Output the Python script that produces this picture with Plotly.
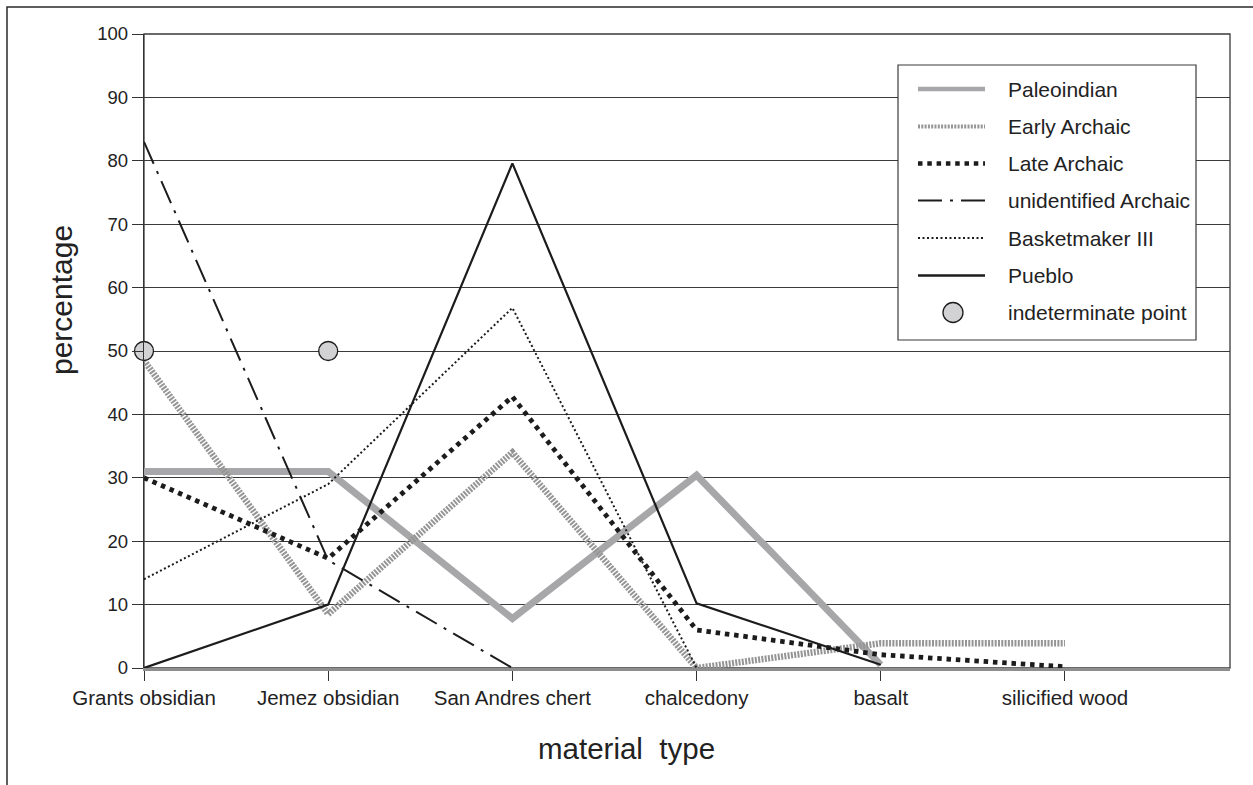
import plotly.graph_objects as go

# Lithic material frequencies by period (percent of points)
categories = ["Grants obsidian", "Jemez obsidian", "San Andres chert",
              "chalcedony", "basalt", "silicified wood"]
paleoindian = [31, 31, 7.8, 30.4, 0.5, None]
early_archaic = [48.5, 8.5, 34, 0, 3.9, 3.9]
late_archaic = [30, 17.3, 42.8, 6, 2.1, 0.2]
unidentified_archaic = [83, 17, 0, None, None, None]
basketmaker_iii = [14, 29, 56.8, 0, None, None]
pueblo = [0, 10, 79.6, 10.2, 0.5, None]
indeterminate = [50, 50, None, None, None, None]
y_ticks = list(range(0, 101, 10))

W, H = 1253, 785
L, R, T, B = 144, 1230, 34, 668
FONT = "Liberation Sans, Arial, sans-serif"
INK = "#1c1c1c"


def px(x):
    return (x - L) / (R - L)


def py(y):
    return (B - y) / (B - T)


xs = list(range(len(categories)))

styles = [
    ("Paleoindian", paleoindian, dict(color="#a7a7a9", width=7, dash="solid"), 4.5),
    ("Early Archaic", early_archaic, dict(color="#959595", width=6.5, dash="2px,1.3px"), 4),
    ("Late Archaic", late_archaic, dict(color=INK, width=4.8, dash="4.5px,4.8px"), 4.5),
    ("unidentified Archaic", unidentified_archaic, dict(color=INK, width=2, dash="24px,8px,3px,8px"), 2.2),
    ("Basketmaker III", basketmaker_iii, dict(color=INK, width=2, dash="2px,2.5px"), 2),
    ("Pueblo", pueblo, dict(color=INK, width=2.2, dash="solid"), 2.4),
]

fig = go.Figure()
for name, vals, line, _ in styles:
    fig.add_trace(go.Scatter(x=xs, y=vals, mode="lines", name=name,
                             line=line, connectgaps=False, showlegend=False,
                             cliponaxis=False))

fig.add_trace(go.Scatter(x=xs, y=indeterminate, mode="markers",
                         name="indeterminate point", showlegend=False,
                         marker=dict(size=19, color="#d2d2d4",
                                     line=dict(color=INK, width=1.3)),
                         cliponaxis=False))

shapes = []
# plot-area frame (top and right edges)
shapes.append(dict(type="rect", xref="paper", yref="paper", x0=0, x1=1, y0=0, y1=1,
                   line=dict(color="#3a3a3a", width=1.3), layer="below"))
# outer chart border
shapes.append(dict(type="rect", xref="paper", yref="paper",
                   x0=px(7), x1=px(1275), y0=py(810), y1=py(7),
                   line=dict(color="#2a2a2a", width=1.5), layer="below"))

# legend box
lx0, lx1, ly0, ly1 = 898, 1196, 65, 340
shapes.append(dict(type="rect", xref="paper", yref="paper",
                   x0=px(lx0), x1=px(lx1), y0=py(ly1), y1=py(ly0),
                   fillcolor="white", line=dict(color="#3a3a3a", width=1.2)))

LEG_FONT = dict(family=FONT, size=21, color="#222")
annotations = []
row_y = [89, 126.5, 163.5, 200.5, 238, 275.5, 312.5]
for i, (name, _, line, lw) in enumerate(styles):
    yy = row_y[i]
    shapes.append(dict(type="line", xref="paper", yref="paper",
                       x0=px(918), x1=px(985), y0=py(yy), y1=py(yy),
                       line=dict(color=line["color"], width=lw, dash=line["dash"])))
    annotations.append(dict(text=name, xref="paper", yref="paper",
                            x=px(1006), y=py(yy), xanchor="left", yanchor="middle",
                            showarrow=False, font=LEG_FONT))
yy = row_y[6]
shapes.append(dict(type="circle", xref="paper", yref="paper",
                   x0=px(943), x1=px(963), y0=py(yy + 10), y1=py(yy - 10),
                   fillcolor="#d2d2d4", line=dict(color=INK, width=1.3)))
annotations.append(dict(text="indeterminate point", xref="paper", yref="paper",
                        x=px(1006), y=py(yy), xanchor="left", yanchor="middle",
                        showarrow=False, font=LEG_FONT))

# axis titles
annotations.append(dict(text="percentage", xref="paper", yref="paper",
                        x=px(62), y=py(300), textangle=-90, showarrow=False,
                        xanchor="center", yanchor="middle",
                        font=dict(family=FONT, size=30, color="#222")))
annotations.append(dict(text="material\u00a0 type", xref="paper", yref="paper",
                        x=px(626), y=py(748), showarrow=False,
                        xanchor="center", yanchor="middle",
                        font=dict(family=FONT, size=29.5, color="#222")))

fig.update_layout(
    width=W, height=H,
    margin=dict(l=L, r=W - R, t=T, b=H - B, pad=0),
    paper_bgcolor="white", plot_bgcolor="white",
    font=dict(family=FONT, color="#222"),
    shapes=shapes, annotations=annotations,
    xaxis=dict(range=[0, 5.896], tickmode="array", tickvals=xs, ticktext=categories,
               showgrid=False, zeroline=False, showline=True,
               linecolor="#8e8e8e", linewidth=2.5,
               ticks="outside", ticklen=10, tickwidth=1.3, tickcolor="#333",
               tickfont=dict(family=FONT, size=20.5, color="#222"), fixedrange=True),
    yaxis=dict(range=[0, 100], tickmode="array", tickvals=y_ticks,
               showgrid=True, gridcolor="#3a3a3a", gridwidth=1.1,
               zeroline=False, showline=True, linecolor="#333", linewidth=1.3,
               ticks="outside", ticklen=11, tickwidth=1.3, tickcolor="#333",
               tickfont=dict(family=FONT, size=18.5, color="#222"), fixedrange=True),
)

fig.write_html("out.html")
